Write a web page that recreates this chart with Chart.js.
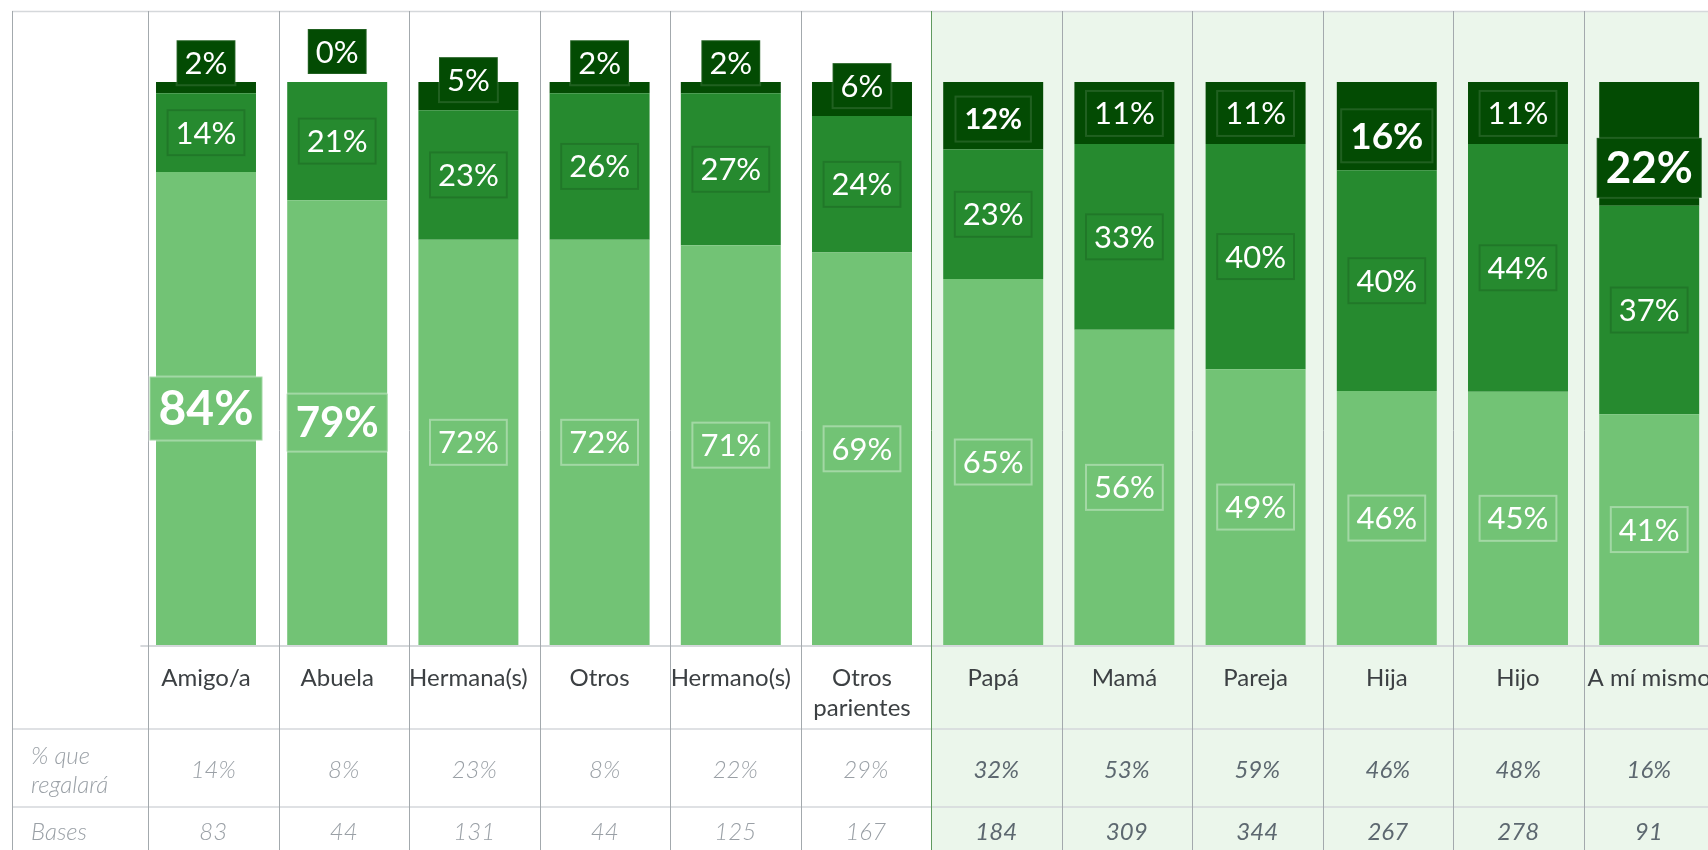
<!DOCTYPE html>
<html>
<head>
<meta charset="utf-8">
<script src="https://cdn.jsdelivr.net/npm/chart.js@4.4.1/dist/chart.umd.min.js"></script>
<style>
html,body{margin:0;padding:0;overflow:hidden;background:#fff;}
canvas{display:block;}
</style>
</head>
<body>
<canvas id="plot_canvas" width="1730" height="850"></canvas>
<script>
// data
const categories = ['Amigo/a','Abuela','Hermana(s)','Otros','Hermano(s)',['Otros','parientes'],'Papá','Mamá','Pareja','Hija','Hijo','A mí mismo'];
const lightValues = [84,79,72,72,71,69,65,56,49,46,45,41];
const midValues   = [14,21,23,26,27,24,23,33,40,40,44,37];
const darkValues  = [2,0,5,2,2,6,12,11,11,16,11,22];
const giftPct = [14,8,23,8,22,29,32,53,59,46,48,16];
const bases   = [83,44,131,44,125,167,184,309,344,267,278,91];
const rowNames = [['% que','regalará'],['Bases']];

// 100% stacked: each column is scaled to its own total
const totals = categories.map((c,i)=>lightValues[i]+midValues[i]+darkValues[i]);
const share = arr => arr.map((v,i)=>v*100/totals[i]);

const colors = ['#72c375','#268a2f','#034b03'];
const boxBorders = ['rgba(255,255,255,0.35)','rgba(0,0,0,0.13)','rgba(255,255,255,0.12)'];
// emphasised labels: "dataset-index" -> font px (bold)
const bigLabels = {'0-0':48,'0-1':42,'2-6':29,'2-9':37,'2-11':44};

// table grid
const tableLeft=12, tableTop=11, firstColX=148, colW=130.5, greenFrom=6;
const row1Y=729, row2Y=807;
const colX = i => firstColX + i*colW;

const tablePlugin = {
  id:'tableGrid',
  beforeDraw(chart){
    const ctx=chart.ctx, W=chart.width, H=chart.height, a=chart.chartArea;
    ctx.save();
    ctx.fillStyle='#fff'; ctx.fillRect(0,0,W,H);
    ctx.fillStyle='#ebf6eb'; ctx.fillRect(colX(greenFrom),tableTop,W-colX(greenFrom),H-tableTop);
    ctx.strokeStyle='#d5d8db'; ctx.lineWidth=1.5;
    ctx.beginPath();
    ctx.moveTo(tableLeft,tableTop+0.5); ctx.lineTo(W,tableTop+0.5);
    ctx.moveTo(tableLeft,row1Y); ctx.lineTo(W,row1Y);
    ctx.moveTo(tableLeft,row2Y); ctx.lineTo(W,row2Y);
    ctx.stroke();
    ctx.lineWidth=2;
    ctx.beginPath(); ctx.moveTo(a.left,a.bottom+1); ctx.lineTo(W,a.bottom+1); ctx.stroke();
    ctx.lineWidth=1;
    const lines=[tableLeft].concat(categories.map((c,i)=>colX(i)));
    lines.forEach((x,k)=>{
      ctx.strokeStyle = (k-1===greenFrom)?'#5f9a5f':'#a3a9ad';
      ctx.beginPath(); ctx.moveTo(Math.round(x)+0.5,tableTop); ctx.lineTo(Math.round(x)+0.5,H); ctx.stroke();
    });
    ctx.restore();
  },
  afterDatasetsDraw(chart){
    const ctx=chart.ctx;
    ctx.save();
    ctx.textAlign='center'; ctx.textBaseline='middle';
    const raw=[lightValues,midValues,darkValues];
    chart.data.datasets.forEach((ds,di)=>{
      chart.getDatasetMeta(di).data.forEach((el,i)=>{
        const p=el.getProps(['x','y','base'],true);
        const big=bigLabels[di+'-'+i];
        const fs=big||31;
        ctx.font=(big?'bold ':'')+fs+'px Lato';
        const txt=raw[di][i]+'%';
        const w=ctx.measureText(txt).width+(big?18:16), h=fs+(big?16:14);
        let cy;
        if(di===2) cy=p.base-8-h/2; else cy=(p.y+p.base)/2;
        ctx.fillStyle=colors[di];
        ctx.fillRect(p.x-w/2,cy-h/2,w,h);
        ctx.strokeStyle=boxBorders[di]; ctx.lineWidth=2;
        ctx.strokeRect(p.x-w/2,cy-h/2,w,h);
        ctx.fillStyle='#fff';
        ctx.fillText(txt,p.x,cy+1);
      });
    });
    ctx.restore();
  },
  afterDraw(chart){
    const ctx=chart.ctx, xs=chart.scales.x;
    ctx.save();
    ctx.textAlign='center'; ctx.textBaseline='middle';
    ctx.font='24px Lato'; ctx.fillStyle='#3c4043';
    categories.forEach((c,i)=>{
      const lines=Array.isArray(c)?c:[c];
      lines.forEach((t,k)=>ctx.fillText(t,xs.getPixelForValue(i),678+k*30));
    });
    categories.forEach((c,i)=>{
      const cx=colX(i)+colW/2, green=i>=greenFrom;
      ctx.font=(green?'italic 400 ':'italic 300 ')+'24px Lato';
      ctx.fillStyle=green?'#5d6870':'#9aa0a6';
      ctx.fillText(giftPct[i]+'%',cx,770);
      ctx.fillText(String(bases[i]),cx,832);
    });
    ctx.textAlign='left'; ctx.font='italic 300 24px Lato'; ctx.fillStyle='#9aa0a6';
    rowNames[0].forEach((t,k)=>ctx.fillText(t,31,756+k*29));
    ctx.fillText(rowNames[1][0],31,832);
    ctx.restore();
  }
};

const config = {
  type:'bar',
  data:{
    labels:categories,
    datasets:[
      {data:share(lightValues),backgroundColor:colors[0]},
      {data:share(midValues),backgroundColor:colors[1]},
      {data:share(darkValues),backgroundColor:colors[2]}
    ]
  },
  options:{
    responsive:false,
    animation:false,
    devicePixelRatio:1,
    layout:{padding:{left:140.4,right:15.2,top:82,bottom:205}},
    datasets:{bar:{categoryPercentage:1,barPercentage:0.762}},
    scales:{
      x:{stacked:true,display:false},
      y:{stacked:true,display:false,min:0,max:100}
    },
    plugins:{legend:{display:false},tooltip:{enabled:false}}
  },
  plugins:[tablePlugin]
};
new Chart(document.getElementById('plot_canvas'),config);
</script>
</body>
</html>
